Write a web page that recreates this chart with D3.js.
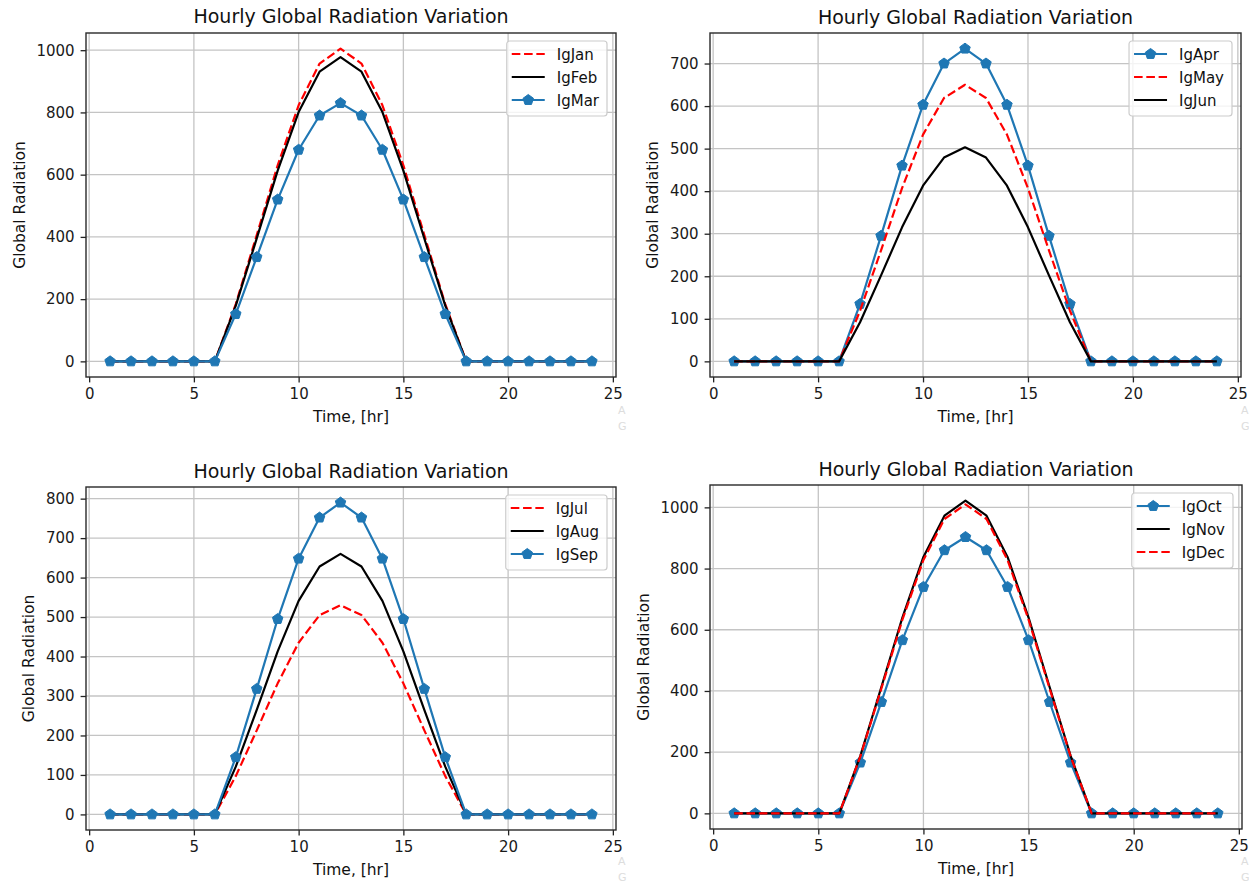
<!DOCTYPE html>
<html>
<head>
<meta charset="utf-8">
<script src="https://cdn.jsdelivr.net/npm/d3@7"></script>
<style>
  body { margin: 0; background: #fff; }
  svg { display: block; font-family: "DejaVu Sans", sans-serif; }
</style>
</head>
<body>
<svg id="chart" width="1249" height="883"></svg>
<script>
// hours of the day
const hours = [1, 2, 3, 4, 5, 6, 7, 8, 9, 10, 11, 12, 13, 14, 15, 16, 17, 18, 19, 20, 21, 22, 23, 24];

// hourly global radiation, one array per month
const igJan = [0, 0, 0, 0, 0, 0, 184, 406, 630, 823, 957, 1005, 957, 823, 630, 406, 184, 0, 0, 0, 0, 0, 0, 0];
const igFeb = [0, 0, 0, 0, 0, 0, 179, 395, 613, 801, 931, 978, 931, 801, 613, 395, 179, 0, 0, 0, 0, 0, 0, 0];
const igMar = [0, 0, 0, 0, 0, 0, 152, 335, 520, 680, 790, 830, 790, 680, 520, 335, 152, 0, 0, 0, 0, 0, 0, 0];
const igApr = [0, 0, 0, 0, 0, 0, 135, 295, 460, 603, 700, 735, 700, 603, 460, 295, 135, 0, 0, 0, 0, 0, 0, 0];
const igMay = [0, 0, 0, 0, 0, 0, 119, 261, 407, 533, 619, 650, 619, 533, 407, 261, 119, 0, 0, 0, 0, 0, 0, 0];
const igJun = [0, 0, 0, 0, 0, 0, 92, 202, 315, 413, 479, 503, 479, 413, 315, 202, 92, 0, 0, 0, 0, 0, 0, 0];
const igJul = [0, 0, 0, 0, 0, 0, 97, 213, 332, 435, 505, 530, 505, 435, 332, 213, 97, 0, 0, 0, 0, 0, 0, 0];
const igAug = [0, 0, 0, 0, 0, 0, 121, 265, 413, 541, 628, 660, 628, 541, 413, 265, 121, 0, 0, 0, 0, 0, 0, 0];
const igSep = [0, 0, 0, 0, 0, 0, 145, 318, 495, 648, 752, 790, 752, 648, 495, 318, 145, 0, 0, 0, 0, 0, 0, 0];
const igOct = [0, 0, 0, 0, 0, 0, 166, 364, 566, 740, 860, 903, 860, 740, 566, 364, 166, 0, 0, 0, 0, 0, 0, 0];
const igNov = [0, 0, 0, 0, 0, 0, 188, 413, 640, 838, 973, 1022, 973, 838, 640, 413, 188, 0, 0, 0, 0, 0, 0, 0];
const igDec = [0, 0, 0, 0, 0, 0, 186, 408, 633, 828, 962, 1010, 962, 828, 633, 408, 186, 0, 0, 0, 0, 0, 0, 0];

// tick labels
const xTicks = [0, 5, 10, 15, 20, 25];
const yTicks1000 = [0, 200, 400, 600, 800, 1000];
const yTicks700 = [0, 100, 200, 300, 400, 500, 600, 700];
const yTicks800 = [0, 100, 200, 300, 400, 500, 600, 700, 800];

const titleText = "Hourly Global Radiation Variation";
const xLabelText = "Time, [hr]";
const yLabelText = "Global Radiation";

const styles = {
  blue:  { color: "#1f77b4", dash: null, marker: true },
  red:   { color: "#ff0000", dash: "8.6,3.7", marker: false },
  black: { color: "#000000", dash: null, marker: false }
};

// each panel: axes box [left, top, right, bottom]
const panels = [
  { box: [86, 33, 616, 377], yTicks: yTicks1000, titleY: 23,
    series: [["IgJan", igJan, "red"], ["IgFeb", igFeb, "black"], ["IgMar", igMar, "blue"]],
    mark: [618, 414] },
  { box: [710, 33, 1241, 377], yTicks: yTicks700, titleY: 24,
    series: [["IgApr", igApr, "blue"], ["IgMay", igMay, "red"], ["IgJun", igJun, "black"]],
    mark: [1241, 414] },
  { box: [86, 487, 616, 830], yTicks: yTicks800, titleY: 478,
    series: [["IgJul", igJul, "red"], ["IgAug", igAug, "black"], ["IgSep", igSep, "blue"]],
    mark: [618, 865] },
  { box: [710, 485, 1242, 829], yTicks: yTicks1000, titleY: 476,
    series: [["IgOct", igOct, "blue"], ["IgNov", igNov, "black"], ["IgDec", igDec, "red"]],
    mark: [1241, 865] }
];

// matplotlib-like pentagon marker
const pentagon = {
  draw(ctx, size) {
    const r = Math.sqrt(size / (2.5 * Math.sin(2 * Math.PI / 5)));
    for (let i = 0; i < 5; i++) {
      const a = -Math.PI / 2 + i * 2 * Math.PI / 5;
      const px = r * Math.cos(a), py = r * Math.sin(a);
      if (i === 0) ctx.moveTo(px, py); else ctx.lineTo(px, py);
    }
    ctx.closePath();
  }
};
const markerPath = d3.symbol().type(pentagon).size(72)();

const svg = d3.select("#chart");
svg.append("rect").attr("width", 1249).attr("height", 883).attr("fill", "#fff");

panels.forEach((p, pi) => {
  const [left, top, right, bottom] = p.box;
  const g = svg.append("g");

  const allVals = p.series.flatMap(s => s[1]);
  const [xmin, xmax] = d3.extent(hours);
  const [ymin, ymax] = d3.extent(allVals);
  const xPad = (xmax - xmin) * 0.05, yPad = (ymax - ymin) * 0.05;

  const x = d3.scaleLinear().domain([xmin - xPad, xmax + xPad]).range([left, right]);
  const y = d3.scaleLinear().domain([ymin - yPad, ymax + yPad]).range([bottom, top]);

  // grid
  g.append("g").selectAll("line").data(xTicks).join("line")
    .attr("x1", d => x(d)).attr("x2", d => x(d))
    .attr("y1", top).attr("y2", bottom)
    .attr("stroke", "#c4c4c4").attr("stroke-width", 1.3);
  g.append("g").selectAll("line").data(p.yTicks).join("line")
    .attr("x1", left).attr("x2", right)
    .attr("y1", d => y(d)).attr("y2", d => y(d))
    .attr("stroke", "#c4c4c4").attr("stroke-width", 1.3);

  // series
  const line = d3.line().x((d, i) => x(hours[i])).y(d => y(d));
  p.series.forEach(([name, vals, st]) => {
    const s = styles[st];
    g.append("path").datum(vals)
      .attr("d", line)
      .attr("fill", "none")
      .attr("stroke", s.color)
      .attr("stroke-width", 2.2)
      .attr("stroke-linejoin", "round")
      .attr("stroke-dasharray", s.dash);
    if (s.marker) {
      g.append("g").selectAll("path").data(vals).join("path")
        .attr("d", markerPath)
        .attr("transform", (d, i) => `translate(${x(hours[i])},${y(d)})`)
        .attr("fill", s.color)
        .attr("stroke", s.color)
        .attr("stroke-width", 1);
    }
  });

  // axes
  const xAxis = g.append("g").attr("transform", `translate(0,${bottom})`)
    .call(d3.axisBottom(x).tickValues(xTicks).tickFormat(d3.format("d"))
      .tickSize(5.4).tickPadding(6).tickSizeOuter(0));
  const yAxis = g.append("g").attr("transform", `translate(${left},0)`)
    .call(d3.axisLeft(y).tickValues(p.yTicks).tickFormat(d3.format("d"))
      .tickSize(5.4).tickPadding(6).tickSizeOuter(0));
  [xAxis, yAxis].forEach(a => {
    a.select(".domain").remove();
    a.selectAll(".tick line").attr("stroke", "#222").attr("stroke-width", 1.3);
    a.selectAll(".tick text").attr("fill", "#1a1a1a").attr("font-size", 15)
      .attr("font-family", "DejaVu Sans, sans-serif");
  });

  // frame
  g.append("rect")
    .attr("x", left).attr("y", top)
    .attr("width", right - left).attr("height", bottom - top)
    .attr("fill", "none").attr("stroke", "#2a2a2a").attr("stroke-width", 1.4);

  // title and labels
  g.append("text")
    .attr("x", (left + right) / 2).attr("y", p.titleY)
    .attr("text-anchor", "middle").attr("font-size", 19).attr("fill", "#111")
    .text(titleText);
  g.append("text")
    .attr("x", (left + right) / 2).attr("y", bottom + 44.5)
    .attr("text-anchor", "middle").attr("font-size", 15.5).attr("fill", "#111")
    .text(xLabelText);
  const tickW = d3.max(yAxis.selectAll(".tick text").nodes(), n => n.getComputedTextLength());
  const ylx = left - tickW - 23;
  g.append("text")
    .attr("transform", `translate(${ylx},${(top + bottom) / 2}) rotate(-90)`)
    .attr("text-anchor", "middle").attr("font-size", 15.5).attr("fill", "#111")
    .text(yLabelText);

  // legend
  const lg = g.append("g");
  const box = lg.append("rect").attr("rx", 3).attr("ry", 3)
    .attr("fill", "#fff").attr("fill-opacity", 0.8)
    .attr("stroke", "#cccccc").attr("stroke-width", 1.2);
  const rows = lg.append("g");
  let maxW = 0;
  p.series.forEach(([name, vals, st], i) => {
    const s = styles[st];
    const row = rows.append("g").attr("transform", `translate(0,${13 + i * 23})`);
    row.append("line").attr("x1", 5).attr("x2", 38).attr("y1", 0).attr("y2", 0)
      .attr("stroke", s.color).attr("stroke-width", 2.2).attr("stroke-dasharray", s.dash);
    if (s.marker) {
      row.append("path").attr("d", markerPath).attr("transform", "translate(21.5,0)")
        .attr("fill", s.color).attr("stroke", s.color);
    }
    const t = row.append("text").attr("x", 50).attr("y", 5.5)
      .attr("font-size", 15).attr("fill", "#111").text(name);
    maxW = Math.max(maxW, t.node().getComputedTextLength());
  });
  const bw = 50 + maxW + 8, bh = 75;
  box.attr("x", 0).attr("y", 0).attr("width", bw).attr("height", bh);
  lg.attr("transform", `translate(${right - 9 - bw},${top + 8})`);

  // faint desktop watermark letters at the screenshot edge
  g.append("text").attr("x", p.mark[0]).attr("y", p.mark[1])
    .attr("font-size", 11).attr("fill", "#dddddd").text("A");
  g.append("text").attr("x", p.mark[0]).attr("y", p.mark[1] + 16)
    .attr("font-size", 11).attr("fill", "#dddddd").text("G");
});
</script>
</body>
</html>
